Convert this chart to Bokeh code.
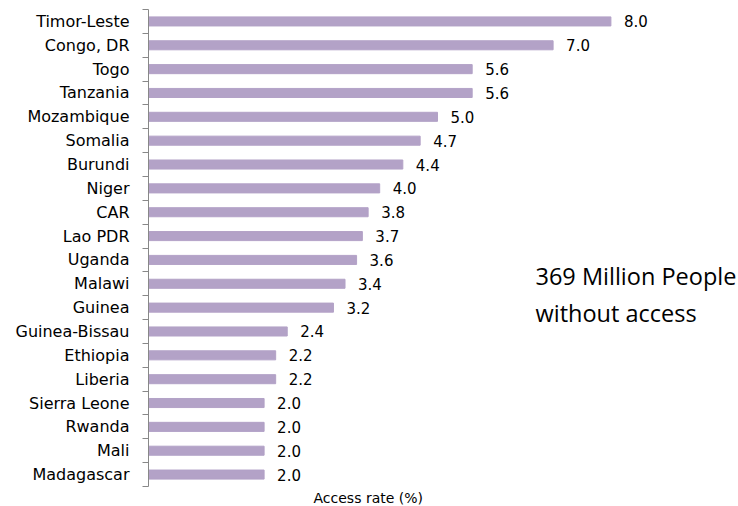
from bokeh.plotting import figure
from bokeh.models import FixedTicker, Label, Range1d, ColumnDataSource, Title
from bokeh.core.properties import value
from bokeh.embed import file_html
from bokeh.resources import INLINE

countries = ["Timor-Leste", "Congo, DR", "Togo", "Tanzania", "Mozambique", "Somalia",
             "Burundi", "Niger", "CAR", "Lao PDR", "Uganda", "Malawi", "Guinea",
             "Guinea-Bissau", "Ethiopia", "Liberia", "Sierra Leone", "Rwanda", "Mali",
             "Madagascar"]
rates = [8.0, 7.0, 5.6, 5.6, 5.0, 4.7, 4.4, 4.0, 3.8, 3.7, 3.6, 3.4, 3.2,
         2.4, 2.2, 2.2, 2.0, 2.0, 2.0, 2.0]
annotation = ["369 Million People", "without access"]
x_title = "Access rate (%)"

n = len(countries)
ypos = [n - i - 0.5 for i in range(n)]
src = ColumnDataSource(dict(y=ypos, v=rates, lab=["%.1f" % r for r in rates], c=countries))

W, H = 738, 506
left, top, bottom = 148, 9, 20
scale = 57.8
x_end = (W - left) / scale
FONT = "DejaVu Sans"

p = figure(width=W, height=H, output_backend="svg", toolbar_location=None,
           x_range=Range1d(0, x_end), y_range=Range1d(0, n),
           min_border_left=left, min_border_right=0, min_border_top=top,
           min_border_bottom=0, outline_line_color=None)
p.grid.visible = False
p.xaxis.visible = False
p.background_fill_color = "white"
p.border_fill_color = "white"

p.hbar(y="y", right="v", left=0, height=0.38, color="#B3A2C7", source=src)
p.text(x="v", y="y", text="lab", x_offset=13, text_baseline="middle",
       text_align="left", text_font=value(FONT), text_font_size="15px",
       text_color="black", source=src)

ya = p.yaxis[0]
ya.ticker = FixedTicker(ticks=ypos, minor_ticks=list(range(n + 1)))
ya.major_label_overrides = {y: c for y, c in zip(ypos, countries)}
ya.major_tick_line_color = None
ya.minor_tick_line_color = "#888888"
ya.minor_tick_out = 6
ya.minor_tick_in = 0
ya.axis_line_color = "#888888"
ya.major_label_text_font = FONT
ya.major_label_text_font_size = "16px"
ya.major_label_text_color = "black"
ya.major_label_standoff = 13

frame_h = H - top - bottom
py = frame_h / n
for txt, ypix in zip(annotation, [275, 312]):
    p.add_layout(Label(x=(535 - left) / scale, y=(H - bottom - ypix) / py, text=txt,
                       text_font="Open Sans", text_font_size="23.5px",
                       text_baseline="alphabetic", text_color="black"))

p.add_layout(Title(text=x_title, align="left", offset=313 - left, standoff=2,
                   text_font=FONT, text_font_size="14px", text_font_style="normal",
                   text_color="black"), "below")

open("out.html", "w").write(file_html(p, INLINE))
